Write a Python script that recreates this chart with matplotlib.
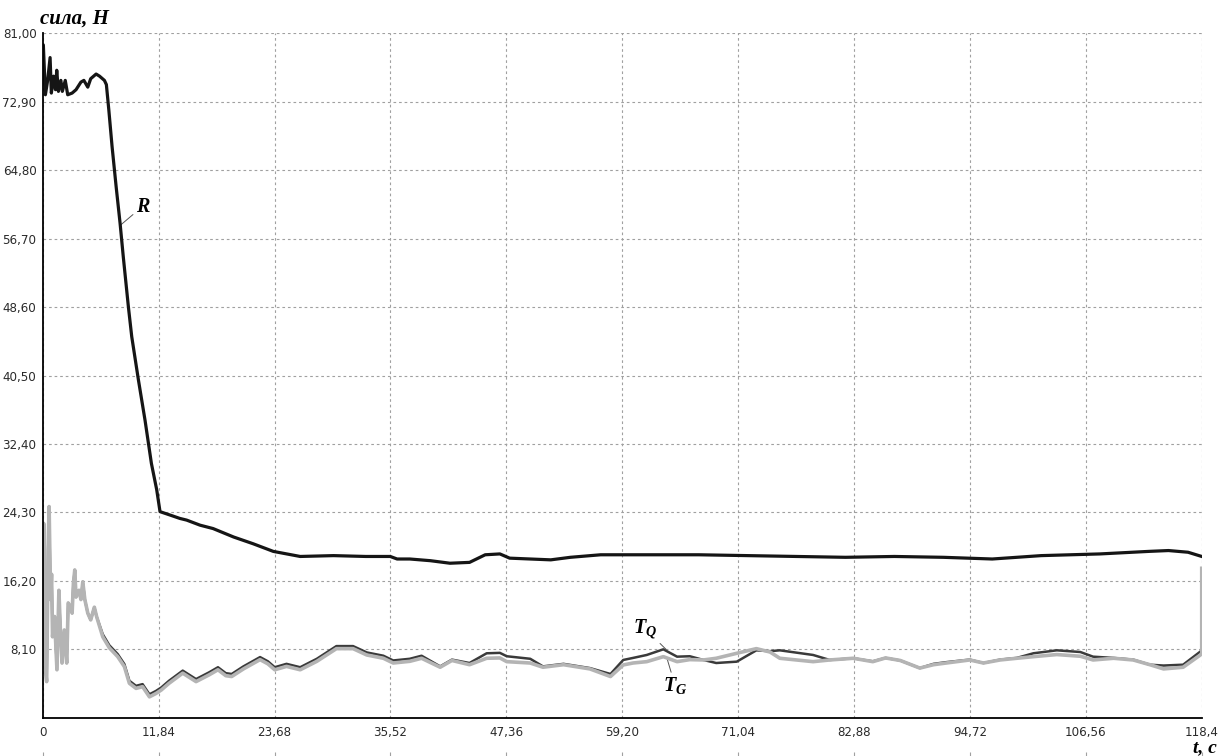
import numpy as np
import matplotlib
matplotlib.use("Agg")
import matplotlib.pyplot as plt

plt.rcParams['mathtext.fontset'] = 'custom'
plt.rcParams['mathtext.it'] = 'Liberation Serif:italic:bold'
plt.rcParams['mathtext.rm'] = 'Liberation Serif:bold'

# --- data ---
t_R = [0, 0.06, 0.27, 0.5, 0.75, 0.88, 1.1, 1.3, 1.43, 1.6,
       1.85, 2.0, 2.3, 2.55, 3.0, 3.4, 3.9, 4.2, 4.6, 4.9,
       5.45, 5.8, 6.3, 6.5, 6.75, 7.08, 7.5, 7.9, 8.23, 8.75,
       9.09, 9.77, 10.45, 11.1, 11.64, 11.98, 13.0, 14.0, 14.7, 16.07,
       17.4, 19.5, 21.5, 23.55, 26.3, 29.7, 33.0, 35.5, 36.2, 37.5,
       39.6, 41.6, 43.6, 45.2, 46.7, 47.7, 49.8, 51.9, 53.9, 57.0,
       62.0, 67.0, 72.0, 77.0, 82.0, 87.0, 92.0, 97.0, 102.0, 108.0,
       113.0, 115.0, 117.0, 118.4]
R = [79.6, 79.6, 73.7, 75.4, 78.1, 73.9, 75.9, 74.3, 76.6, 74.1,
     75.4, 74.1, 75.4, 73.7, 73.9, 74.3, 75.2, 75.4, 74.6, 75.6,
     76.15, 75.9, 75.4, 74.9, 71.9, 67.6, 62.8, 58.5, 54.5, 48.6,
     45.1, 40.0, 35.2, 30.1, 27.0, 24.4, 24.0, 23.6, 23.4, 22.8,
     22.4, 21.4, 20.6, 19.7, 19.1, 19.2, 19.1, 19.1, 18.8, 18.8,
     18.6, 18.3, 18.4, 19.3, 19.4, 18.9, 18.8, 18.7, 19.0, 19.3,
     19.3, 19.3, 19.2, 19.1, 19.0, 19.1, 19.0, 18.8, 19.2, 19.4,
     19.7, 19.8, 19.6, 19.1]

t_T = [0, 0.1, 0.25, 0.4, 0.55, 0.65, 0.8, 0.9, 1.0, 1.2,
       1.45, 1.65, 1.8, 1.97, 2.2, 2.45, 2.6, 2.8, 3.0, 3.13,
       3.27, 3.4, 3.7, 3.9, 4.09, 4.3, 4.6, 4.9, 5.27, 5.5,
       6.13, 6.8, 7.66, 8.34, 8.85, 9.53, 10.2, 10.9, 11.57, 12.1,
       12.9, 14.3, 15.66, 17.0, 17.9, 18.7, 19.3, 20.5, 22.2, 23.0,
       23.7, 24.9, 26.3, 28.0, 30.0, 31.7, 33.1, 34.8, 35.8, 37.5,
       38.7, 40.6, 41.8, 43.6, 45.35, 46.7, 47.4, 49.8, 51.1, 53.2,
       55.9, 58.0, 59.3, 60.3, 61.7, 63.4, 64.8, 66.1, 67.5, 68.8,
       70.9, 72.9, 74.3, 75.3, 78.7, 80.4, 82.8, 84.8, 86.1, 87.6,
       89.6, 91.0, 92.3, 94.7, 96.1, 97.8, 99.5, 101.2, 103.6, 106.0,
       107.3, 109.4, 111.4, 113.1, 114.5, 116.5, 118.2, 118.4]
T_G = [12.0, 23.0, 6.0, 4.3, 20.0, 25.0, 14.0, 17.0, 9.6, 12.0,
       5.7, 15.1, 10.4, 6.5, 10.4, 6.5, 13.6, 13.2, 12.4, 15.9,
       17.5, 14.3, 15.1, 14.0, 16.1, 14.0, 12.4, 11.6, 13.1, 12.0,
       9.6, 8.3, 7.25, 6.07, 4.1, 3.5, 3.7, 2.5, 2.9, 3.3,
       4.1, 5.3, 4.3, 5.1, 5.7, 5.0, 4.9, 5.8, 6.9, 6.4,
       5.7, 6.1, 5.7, 6.7, 8.2, 8.2, 7.45, 7.06, 6.5, 6.7,
       7.06, 6.0, 6.8, 6.3, 7.06, 7.1, 6.66, 6.5, 6.0, 6.3,
       5.8, 4.9, 6.27, 6.5, 6.66, 7.25, 6.66, 6.9, 6.86, 7.06,
       7.65, 8.2, 7.8, 7.06, 6.66, 6.86, 7.06, 6.66, 7.1, 6.8,
       5.9, 6.3, 6.5, 6.86, 6.5, 6.86, 7.06, 7.25, 7.5, 7.3,
       6.86, 7.06, 6.86, 6.3, 5.8, 6.0, 7.4, 7.6]
T_G_end = 17.7
T_Q = [12.0, 23.0, 6.0, 4.3, 20.0, 25.0, 14.0, 17.0, 9.6, 12.0,
       5.7, 15.1, 10.4, 6.5, 10.4, 6.5, 13.6, 13.2, 12.4, 15.9,
       17.5, 14.3, 15.1, 14.0, 16.1, 14.0, 12.4, 11.6, 13.1, 12.0,
       9.9, 8.6, 7.55, 6.37, 4.4, 3.8, 4.0, 2.8, 3.2, 3.6,
       4.4, 5.6, 4.6, 5.4, 6.0, 5.3, 5.2, 6.1, 7.2, 6.7,
       6.0, 6.4, 6.0, 7.0, 8.5, 8.5, 7.75, 7.36, 6.8, 7.0,
       7.36, 6.1, 6.9, 6.5, 7.65, 7.7, 7.3, 7.0, 6.1, 6.4,
       5.9, 5.2, 6.86, 7.1, 7.45, 8.12, 7.25, 7.3, 6.86, 6.5,
       6.66, 8.0, 7.9, 8.0, 7.45, 6.86, 7.06, 6.7, 7.1, 6.8,
       5.9, 6.4, 6.6, 6.9, 6.5, 6.9, 7.1, 7.65, 8.0, 7.8,
       7.25, 7.1, 6.9, 6.3, 6.2, 6.3, 7.8, 8.0]

x_ticks = [0, 11.84, 23.68, 35.52, 47.36, 59.20, 71.04, 82.88, 94.72, 106.56, 118.4]
x_labels = ['0', '11,84', '23,68', '35,52', '47,36', '59,20', '71,04',
            '82,88', '94,72', '106,56', '118,4']
y_ticks = [8.1, 16.2, 24.3, 32.4, 40.5, 48.6, 56.7, 64.8, 72.9, 81.0]
y_labels = ['8,10', '16,20', '24,30', '32,40', '40,50', '48,60', '56,70',
            '64,80', '72,90', '81,00']

fig = plt.figure(figsize=(12.25, 7.56), dpi=100)
ax = fig.add_axes([0.0349, 0.0503, 0.9461, 0.906])

ax.plot(t_T, T_Q, color='#3a3a3a', lw=1.8, zorder=3)
ax.plot(np.append(t_T, t_T[-1]), np.append(T_G, T_G_end), color='#b4b4b4',
        lw=2.6, zorder=4, solid_joinstyle='round')
ax.plot(t_R, R, color='#151515', lw=2.3, zorder=5)

ax.set_xlim(0, 118.4)
ax.set_ylim(0, 81)
ax.set_xticks(x_ticks)
ax.set_xticklabels(x_labels)
ax.set_yticks(y_ticks)
ax.set_yticklabels(y_labels)
ax.tick_params(length=0, labelsize=8.6, labelcolor='#2a2a2a')
ax.tick_params(axis='x', pad=6)
ax.tick_params(axis='y', pad=4.5)

ax.grid(True, color='#a0a0a0', lw=0.8, linestyle=(0, (2.4, 2.6)), zorder=0)
for s in ['top', 'right']:
    ax.spines[s].set_visible(False)
for s in ['left', 'bottom']:
    ax.spines[s].set_color('black')
    ax.spines[s].set_linewidth(1.3)
    ax.spines[s].set_zorder(6)

# dotted stubs under the x labels
ax.vlines(x_ticks, -0.055, -0.05, transform=ax.get_xaxis_transform(),
          color='#a0a0a0', lw=0.8, clip_on=False)

serif = dict(family='Liberation Serif', weight='bold', style='italic')
fig.text(40 / 1225, 1 - 24 / 756, 'сила, Н', fontsize=15, va='baseline', **serif)
fig.text(1217 / 1225, 1 - 752 / 756, 't, с', fontsize=14, ha='right', va='baseline', **serif)

lead = dict(arrowstyle='-', color='#555555', lw=0.7, shrinkA=0, shrinkB=0)
ax.annotate('R', xy=(7.96, 58.3), xytext=(9.5, 59.3), fontsize=14.5,
            ha='left', va='bottom', arrowprops=lead, **serif)
ax.annotate('$T_Q$', xy=(63.67, 8.12), xytext=(62.8, 9.14), fontsize=14.5,
            ha='right', va='bottom', arrowprops=lead)
ax.annotate('$T_G$', xy=(63.8, 6.94), xytext=(64.6, 5.08), fontsize=14.5,
            ha='center', va='top', arrowprops=lead)

fig.savefig('out.png', dpi=100)
